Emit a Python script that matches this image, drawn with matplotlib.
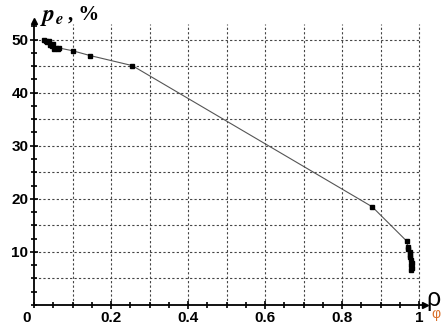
import matplotlib
matplotlib.use('Agg')
import matplotlib.pyplot as plt
from matplotlib.ticker import MultipleLocator

# dados
rho = [0.025, 0.030, 0.035, 0.040, 0.042, 0.047, 0.050, 0.053, 0.057, 0.062, 0.066,
       0.10, 0.145, 0.255, 0.878,
       0.968, 0.970, 0.972, 0.975, 0.977, 0.975, 0.978, 0.980, 0.978, 0.980, 0.978]
pe = [50.0, 49.8, 49.5, 49.8, 49.0, 48.8, 49.2, 48.3, 48.5, 48.3, 48.4,
      47.9, 47.0, 45.1, 18.5,
      12.0, 11.0, 10.5, 10.0, 9.5, 9.0, 8.5, 8.0, 7.5, 7.0, 6.5]

xticks = [0.2, 0.4, 0.6, 0.8, 1.0]
xticklabels = ['0.2', '0.4', '0.6', '0.8', '1']
yticks = [10, 20, 30, 40, 50]

fig = plt.figure(figsize=(4.42, 3.27), dpi=100)
W, H = 442, 327
ax = fig.add_axes([34 / W, 22 / H, 391 / W, 284 / H])
ax.set_xlim(0, 1.015)
ax.set_ylim(0, 53.5)

# grade tracejada
for gx in [0.1 * i for i in range(1, 11)]:
    ax.plot([gx, gx], [0, 53.0], color='#444444', lw=0.8, ls=(0, (2, 2)), zorder=1)
for gy in range(5, 55, 5):
    ax.plot([0, 1.0], [gy, gy], color='#444444', lw=0.8, ls=(0, (2, 2)), zorder=1)

ax.plot(rho, pe, color='#555555', lw=0.8, zorder=2)
ax.plot(rho, pe, 's', color='black', ms=3.5, zorder=3)

for s in ['top', 'right']:
    ax.spines[s].set_visible(False)
for s in ['left', 'bottom']:
    ax.spines[s].set_linewidth(1.3)

ax.plot(1.015, 0, '>k', ms=5, clip_on=False)
ax.plot(0, 53.5, '^k', ms=5, clip_on=False)

ax.set_xticks(xticks)
ax.set_xticklabels(xticklabels)
ax.set_yticks(yticks)
ax.xaxis.set_minor_locator(MultipleLocator(0.05))
ax.yaxis.set_minor_locator(MultipleLocator(2.5))
ax.tick_params(which='both', direction='inout', width=1.2)
ax.tick_params(which='major', length=6, labelsize=11, pad=1)
ax.tick_params(which='minor', length=5)
for lab in ax.get_xticklabels() + ax.get_yticklabels():
    lab.set_fontweight('bold')
    lab.set_fontfamily('Liberation Sans')

fig.text(27 / W, 1 - 318 / H, '0', fontsize=11, fontweight='bold',
         family='Liberation Sans', ha='center', va='center')

plt.rcParams['mathtext.fontset'] = 'stix'
fig.text(40 / W, 1 - 16 / H, r'$\mathbfit{p}_{\mathbfit{e}}$', fontsize=17,
         ha='left', va='center')
fig.text(68 / W, 1 - 15 / H, ', %', fontsize=15, fontweight='bold',
         family='Liberation Serif', ha='left', va='center')

fig.text(426 / W, 1 - 299 / H, 'ρ', fontsize=18, family='Liberation Sans',
         ha='left', va='center')
fig.text(441 / W, 1 - 314 / H, 'φ', fontsize=10, family='Liberation Sans',
         color='#d9702a', ha='right', va='center')

fig.savefig('out.png', dpi=100)
